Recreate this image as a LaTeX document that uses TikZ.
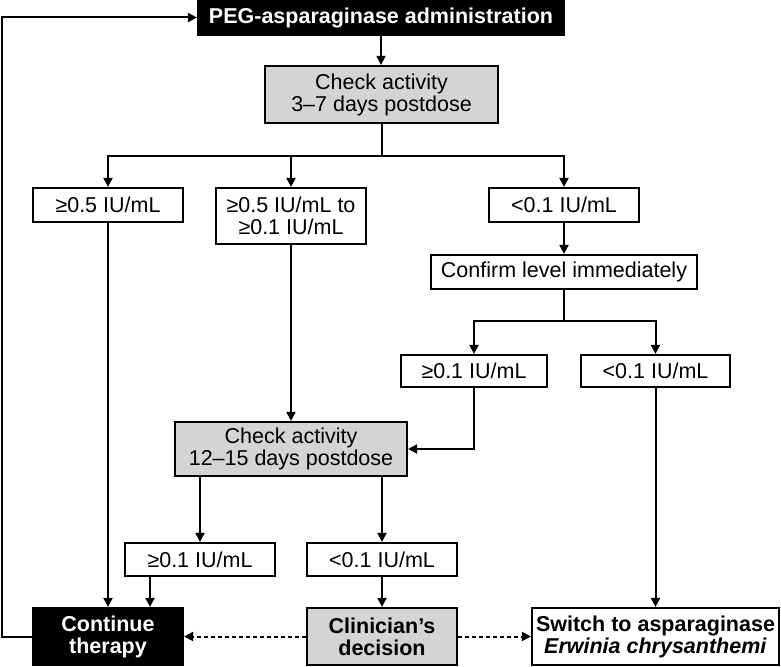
\documentclass[tikz,border=0pt]{standalone}
\usepackage{fontspec}
\setmainfont{Liberation Sans}
\usetikzlibrary{arrows.meta,calc}

\newcommand{\boxfont}{\fontsize{21.5}{22}\selectfont}

\begin{document}
\begin{tikzpicture}[x=1pt, y=-1pt,
  box/.style={draw, line width=2.2pt, align=center, inner sep=0pt,
    minimum width=150pt, minimum height=34pt, font=\boxfont},
  greybox/.style={box, fill=black!17},
  blackbox/.style={box, fill=black, text=white, font=\boxfont\bfseries},
  link/.style={line width=2pt},
  arr/.style={link, -{Triangle[length=9pt,width=9pt]}},
  dotarr/.style={arr, dash pattern=on 4pt off 3pt}]
  \useasboundingbox (0,0) rectangle (781,666);

  % dosing and first check
  \node[blackbox, minimum width=366pt, minimum height=35pt] (peg) at (381,17.5) {PEG-asparaginase administration};
  \node[greybox, minimum width=233pt, minimum height=57pt] (chk1) at (381.5,94.5) {Check activity\\3–7 days postdose};

  % first level results
  \node[box] (hi) at (108,205) {≥0.5 IU/mL};
  \node[box, minimum height=56pt] (mid) at (291,216) {≥0.5 IU/mL to\\≥0.1 IU/mL};
  \node[box] (lo) at (564,205) {<0.1 IU/mL};
  \node[box, minimum width=266pt] (conf) at (564,272) {Confirm level immediately};
  \node[box, minimum width=146pt, minimum height=32pt] (conf-hi) at (474,371) {≥0.1 IU/mL};
  \node[box, minimum width=149pt, minimum height=32pt] (conf-lo) at (655.5,371) {<0.1 IU/mL};

  % second check
  \node[greybox, minimum width=232pt, minimum height=54pt] (chk2) at (291,449) {Check activity\\12–15 days postdose};
  \node[box, minimum height=33pt] (chk2-hi) at (200,559.5) {≥0.1 IU/mL};
  \node[box, minimum height=33pt] (chk2-lo) at (382,559.5) {<0.1 IU/mL};

  % outcomes
  \node[blackbox, minimum height=57pt] (cont) at (108,636.5) {Continue\\therapy};
  \node[greybox, minimum height=57pt, font=\boxfont\bfseries] (clin) at (382,636.5) {Clinician's\\decision};
  \node[box, minimum width=247pt, minimum height=57pt, font=\boxfont\bfseries] (switch) at (655.5,636.5) {Switch to asparaginase\\\textit{Erwinia chrysanthemi}};

  % connectors
  \draw[arr] (peg.south) -- (peg.south |- chk1.north);
  \coordinate (split1) at ($(chk1.south)+(0,32)$);
  \draw[link] (chk1.south) -- (split1);
  \draw[arr] (split1) -| (hi.north);
  \draw[arr] (split1) -| (mid.north);
  \draw[arr] (split1) -| (lo.north);
  \draw[arr] (lo.south) -- (conf.north);
  \coordinate (split2) at ($(conf.south)+(0,31)$);
  \draw[link] (conf.south) -- (split2);
  \draw[arr] (split2) -| (conf-hi.north);
  \draw[arr] (split2) -| (conf-lo.north);
  \draw[arr] (mid.south) -- (chk2.north);
  \draw[arr] (conf-hi.south) |- (chk2.east);
  \draw[arr] (hi.south) -- (hi.south |- cont.north);
  \draw[arr] (conf-lo.south) -- (switch.north);
  \draw[arr] (chk2-hi.north |- chk2.south) -- (chk2-hi.north);
  \draw[arr] (chk2-lo.north |- chk2.south) -- (chk2-lo.north);
  \draw[arr] ([xshift=-50pt]chk2-hi.south) -- ([xshift=-50pt]chk2-hi.south |- cont.north);
  \draw[arr] (chk2-lo.south) -- (clin.north);
  \draw[dotarr] (clin.west) -- (cont.east);
  \draw[dotarr] (clin.east) -- (switch.west);
  \draw[arr] (cont.west) -- ++(-30,0) |- (peg.west);
\end{tikzpicture}
\end{document}
